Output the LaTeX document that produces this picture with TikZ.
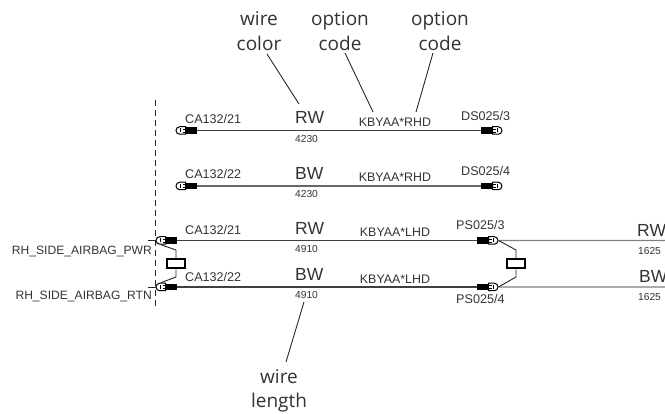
\documentclass[tikz,border=0pt]{standalone}
\usepackage{fontspec}
\setmainfont{Liberation Sans}
\newfontfamily\notefont{Open Sans}
\usetikzlibrary{shapes.misc}
\definecolor{inkgrey}{HTML}{333333}
\tikzset
{
    wire/.style      = {draw=black!75, line width=1.3pt},
    lightwire/.style = {draw=black!50, line width=1.3pt},
    thinline/.style  = {draw=black!85, line width=0.9pt},
    sleeve/.style    = {rectangle, fill=black, inner sep=0pt, minimum width=11.5pt, minimum height=6.5pt},
    tipleft/.style   = {rounded rectangle, rounded rectangle right arc=none, draw=black, line width=1pt, fill=white, inner sep=0pt, minimum width=9.5pt, minimum height=7.5pt,
        path picture={\draw[black,line width=0.7pt] (path picture bounding box.center) ++(0,-2pt) -- ++(0,4pt) (path picture bounding box.east) ++(0,1.5pt) -- ++(-3pt,0) (path picture bounding box.east) ++(0,-1.5pt) -- ++(-3pt,0);}},
    tipright/.style  = {rounded rectangle, rounded rectangle left arc=none, draw=black, line width=1pt, fill=white, inner sep=0pt, minimum width=9.5pt, minimum height=7.5pt,
        path picture={\draw[black,line width=0.7pt] (path picture bounding box.center) ++(0,-2pt) -- ++(0,4pt) (path picture bounding box.west) ++(0,1.5pt) -- ++(3pt,0) (path picture bounding box.west) ++(0,-1.5pt) -- ++(3pt,0);}},
    splice/.style    = {rectangle, draw=black, line width=2pt, fill=white, inner sep=0pt, minimum width=18pt, minimum height=9pt},
    pinlabel/.style  = {anchor=mid west, inner sep=0pt, yshift=-2pt, text=inkgrey, font=\fontsize{12.6}{14}\selectfont},
    colorlabel/.style= {anchor=mid west, inner sep=0pt, yshift=-3pt, text=inkgrey, font=\fontsize{17.5}{20}\selectfont},
    lengthlabel/.style={anchor=mid west, inner sep=0pt, yshift=-0.8pt, text=inkgrey, font=\fontsize{10.2}{12}\selectfont},
    codelabel/.style = {anchor=mid, inner sep=0pt, yshift=-1.5pt, text=inkgrey, font=\fontsize{12.4}{14}\selectfont},
    signallabel/.style={anchor=mid east, inner sep=0pt, yshift=-1.5pt, text=inkgrey, font=\fontsize{12.1}{14}\selectfont},
    notelabel/.style = {align=center, inner sep=0pt, text=inkgrey, font=\notefont\fontsize{19}{24.5}\selectfont}
}

\begin{document}
\begin{tikzpicture}[x=1pt,y=-1pt]
	\useasboundingbox (0,0) rectangle (665,414);
	% ground line
	\coordinate (groundtop) at (155,100);
	\coordinate (groundbot) at (155,308);
	\draw[thinline,dash pattern=on 6pt off 4pt] (groundtop) -- (groundbot);
	% plugs
	\foreach \plug/\x/\y in {cat/191/130.5,cab/191/186,cac/171/240.5,cad/171/287}
	{
		\node[tipleft,anchor=east] (\plug tip) at (\x-5,\y) {};
		\node[sleeve] (\plug) at (\x,\y) {};
	}
	\foreach \plug/\x/\y in {dsa/487/130.5,dsb/487/186,psa/483/240.5,psb/483/287}
	{
		\node[tipright,anchor=west] (\plug tip) at (\x+5,\y) {};
		\node[sleeve] (\plug) at (\x,\y) {};
	}
	% wires
	\draw[wire] (cat) -- (dsa);
	\draw[wire,draw=black!60] (cab) -- (dsb);
	\draw[wire] (cac) -- (psa);
	\draw[wire] (cad) -- (psb);
	\coordinate (endrw) at (665,240.5);
	\coordinate (endbw) at (665,287);
	\draw[lightwire] (psatip) -- (endrw);
	\draw[lightwire] (psbtip) -- (endbw);
	\coordinate (stubpwr) at (148,240.5);
	\coordinate (stubrtn) at (148,287);
	\draw[thinline] (stubpwr) -- (cactip);
	\draw[thinline] (stubrtn) -- (cadtip);
	% splices
	\node[splice] (spliceleft) at (176,264) {};
	\node[splice] (spliceright) at (516,264) {};
	\draw[thinline] (cactip.south) -- (176,250) -- (spliceleft.north);
	\draw[thinline] (cadtip.north) -- (176,277) -- (spliceleft.south);
	\draw[thinline] (psatip.east) -- (516,250) -- (spliceright.north);
	\draw[thinline] (psbtip.east) -- (516,277) -- (spliceright.south);
	% pin labels
	\node[pinlabel] (pinca) at (185,119) {CA132/21};
	\node[pinlabel] (pincb) at (185,174) {CA132/22};
	\node[pinlabel] (pincc) at (185,230) {CA132/21};
	\node[pinlabel] (pincd) at (185,277) {CA132/22};
	\node[pinlabel] (pinda) at (461,116) {DS025/3};
	\node[pinlabel] (pindb) at (461,171) {DS025/4};
	\node[pinlabel] (pinpa) at (456,225) {PS025/3};
	\node[pinlabel] (pinpb) at (456,299) {PS025/4};
	% wire colors and lengths
	\node[colorlabel] (colora) at (295,118) {RW};
	\node[colorlabel] (colorb) at (295,174) {BW};
	\node[colorlabel] (colorc) at (295,229) {RW};
	\node[colorlabel] (colord) at (295,275) {BW};
	\node[colorlabel] (colore) at (637,231) {RW};
	\node[colorlabel] (colorf) at (639,277) {BW};
	\node[lengthlabel] (lena) at (295,139.5) {4230};
	\node[lengthlabel] (lenb) at (295,194.5) {4230};
	\node[lengthlabel] (lenc) at (295,249.5) {4910};
	\node[lengthlabel] (lend) at (295,295.5) {4910};
	\node[lengthlabel] (lene) at (638,251) {1625};
	\node[lengthlabel] (lenf) at (638,297) {1625};
	% option codes
	\node[codelabel] (codea) at (395,122) {KBYAA*RHD};
	\node[codelabel] (codeb) at (395,177) {KBYAA*RHD};
	\node[codelabel] (codec) at (395,232) {KBYAA*LHD};
	\node[codelabel] (coded) at (395,279) {KBYAA*LHD};
	% signals
	\node[signallabel] (sigpwr) at (152,250) {RH\_SIDE\_AIRBAG\_PWR};
	\node[signallabel] (sigrtn) at (152,295) {RH\_SIDE\_AIRBAG\_RTN};
	% notes
	\node[notelabel] (notecolor) at (259,31) {wire\\color};
	\node[notelabel] (noteopta) at (340,31) {option\\code};
	\node[notelabel] (noteoptb) at (440,31) {option\\code};
	\node[notelabel] (notelen) at (279,391) {wire\\length};
	\coordinate (hitcolor) at (299,104);
	\coordinate (hitopta) at (373,112);
	\coordinate (hitoptb) at (416,112);
	\coordinate (hitlen) at (304,302);
	\coordinate (footcolor) at (267,54);
	\coordinate (footopta) at (345,53);
	\coordinate (footoptb) at (433,53);
	\coordinate (footlen) at (286,362);
	\draw[thinline] (footcolor) -- (hitcolor);
	\draw[thinline] (footopta) -- (hitopta);
	\draw[thinline] (footoptb) -- (hitoptb);
	\draw[thinline] (footlen) -- (hitlen);
\end{tikzpicture}
\end{document}
